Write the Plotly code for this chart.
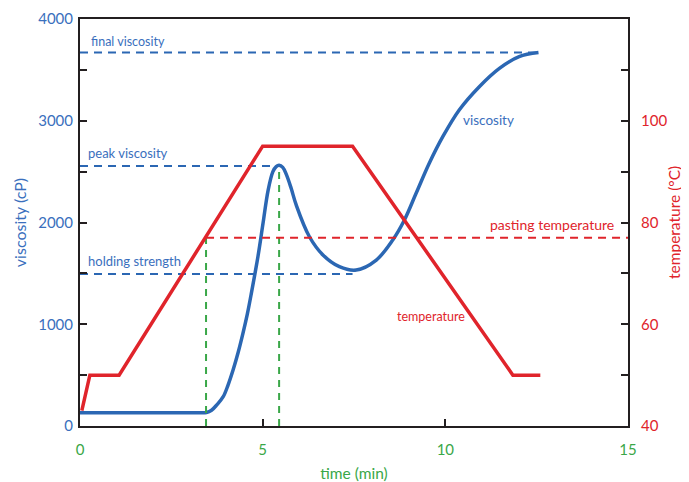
import plotly.graph_objects as go

# ---- data ----
visc_time = [0, 1.7, 3.3, 3.46, 3.6, 3.75, 3.92, 4.05, 4.19, 4.33, 4.46, 4.58, 4.69, 4.87, 5.01,
             5.15, 5.28, 5.37, 5.45, 5.55, 5.65, 5.78, 5.92, 6.28, 6.65, 7.10, 7.56, 8.11, 8.56,
             8.88, 9.20, 9.56, 9.93, 10.38, 10.93, 11.48, 12.02, 12.55]
viscosity = [130, 130, 130, 133, 155, 210, 288, 400, 550, 725, 911, 1100, 1304, 1664, 1992,
             2319, 2500, 2550, 2562, 2542, 2470, 2336, 2170, 1860, 1681, 1566, 1533, 1631, 1828,
             2025, 2287, 2582, 2843, 3106, 3335, 3515, 3630, 3670]

temp_time = [0.05, 0.27, 1.07, 5.0, 7.46, 11.85, 12.6]
temperature = [43, 50, 50, 95, 95, 50, 50]

final_visc = 3670
final_time = 12.55
peak_visc = 2555
peak_time = 5.45
hold_visc = 1495
hold_time = 7.46
pasting_temp = 77
pasting_time = 3.45

BLUE = "#2b67b3"
RED = "#e0242b"
GREEN = "#3aa748"
BLUE_T = "#3a6fbd"
FONT = "Lato"

fig = go.Figure()

# reference dashed lines
fig.add_trace(go.Scatter(x=[0, final_time], y=[final_visc, final_visc], mode="lines",
                         line=dict(color=BLUE, width=2, dash="8px,6px"), yaxis="y", hoverinfo="skip"))
fig.add_trace(go.Scatter(x=[0, peak_time], y=[peak_visc, peak_visc], mode="lines",
                         line=dict(color=BLUE, width=2, dash="8px,6px"), yaxis="y", hoverinfo="skip"))
fig.add_trace(go.Scatter(x=[0, hold_time], y=[hold_visc, hold_visc], mode="lines",
                         line=dict(color=BLUE, width=2, dash="8px,6px"), yaxis="y", hoverinfo="skip"))
fig.add_trace(go.Scatter(x=[pasting_time, 15], y=[pasting_temp, pasting_temp], mode="lines",
                         line=dict(color=RED, width=2, dash="8px,6px"), yaxis="y2", hoverinfo="skip"))
fig.add_trace(go.Scatter(x=[pasting_time, pasting_time], y=[40, pasting_temp], mode="lines",
                         line=dict(color=GREEN, width=2, dash="7px,6px"), yaxis="y2", hoverinfo="skip"))
fig.add_trace(go.Scatter(x=[peak_time, peak_time], y=[0, peak_visc], mode="lines",
                         line=dict(color=GREEN, width=2, dash="7px,6px"), yaxis="y", hoverinfo="skip"))

# main curves
fig.add_trace(go.Scatter(x=temp_time, y=temperature, mode="lines",
                         line=dict(color=RED, width=3.5), yaxis="y2"))
fig.add_trace(go.Scatter(x=visc_time, y=viscosity, mode="lines",
                         line=dict(color=BLUE, width=3.5, shape="spline", smoothing=1.0), yaxis="y"))

annotations = [
    dict(x=0.25, y=3780, text="final viscosity", xanchor="left", font=dict(color=BLUE_T, size=12.5, family=FONT)),
    dict(x=0.16, y=2685, text="peak viscosity", xanchor="left", font=dict(color=BLUE_T, size=13, family=FONT)),
    dict(x=0.16, y=1625, text="holding strength", xanchor="left", font=dict(color=BLUE_T, size=13, family=FONT)),
    dict(x=10.44, y=3010, text="viscosity", xanchor="left", font=dict(color=BLUE_T, size=13.5, family=FONT)),
    dict(x=14.67, y=1985, text="pasting temperature", xanchor="right", font=dict(color=RED, size=14, family=FONT)),
    dict(x=10.6, y=1080, text="temperature", xanchor="right", font=dict(color=RED, size=12.5, family=FONT)),
]
for a in annotations:
    a.update(xref="x", yref="y", showarrow=False, yanchor="middle")

# right axis title as rotated annotation (precise placement)
annotations.append(dict(xref="paper", yref="paper", x=1.083, y=0.5, text="temperature (°C)",
                        textangle=-90, showarrow=False, xanchor="center", yanchor="middle",
                        font=dict(color=RED, size=15.5, family=FONT)))

left_ticks = [0, 500, 1000, 1500, 2000, 2500, 3000, 3500, 4000]
left_text = ["0", "", "1000", "", "2000", "", "3000", "", "4000"]
right_ticks = [40, 50, 60, 70, 80, 90, 100, 110, 120]
right_text = ["40", "", "60", "", "80", "", "100", "", ""]
x_ticks = [0, 5, 10, 15]

fig.update_layout(
    width=681, height=474,
    margin=dict(l=72, r=61, t=11, b=56, autoexpand=False),
    plot_bgcolor="white", paper_bgcolor="white",
    showlegend=False,
    annotations=annotations,
    font=dict(family=FONT),
    xaxis=dict(range=[0, 15], tickvals=x_ticks, ticktext=[str(v) for v in x_ticks],
               ticks="inside", ticklen=7, tickwidth=2, tickcolor="#231f20",
               showline=True, linecolor="#231f20", linewidth=2, mirror=True,
               showgrid=False, zeroline=False, automargin=False, ticklabelstandoff=9,
               tickfont=dict(color=GREEN, size=15, family=FONT),
               title=dict(text="time (min)", font=dict(color=GREEN, size=15.5, family=FONT), standoff=12)),
    yaxis=dict(range=[0, 4000], tickvals=left_ticks, ticktext=left_text,
               ticks="inside", ticklen=7, tickwidth=2, tickcolor="#231f20",
               showline=True, linecolor="#231f20", linewidth=2,
               showgrid=False, zeroline=False, automargin=False, ticklabelstandoff=2,
               tickfont=dict(color=BLUE_T, size=15, family=FONT),
               title=dict(text="viscosity (cP)", font=dict(color=BLUE_T, size=16, family=FONT), standoff=8)),
    yaxis2=dict(range=[40, 120], overlaying="y", side="right", tickvals=right_ticks, ticktext=right_text,
                ticks="inside", ticklen=7, tickwidth=2, tickcolor="#231f20",
                showline=True, linecolor="#231f20", linewidth=2,
                showgrid=False, zeroline=False, automargin=False, ticklabelstandoff=8,
                tickfont=dict(color=RED, size=15, family=FONT)),
)

fig.write_html("out.html")
